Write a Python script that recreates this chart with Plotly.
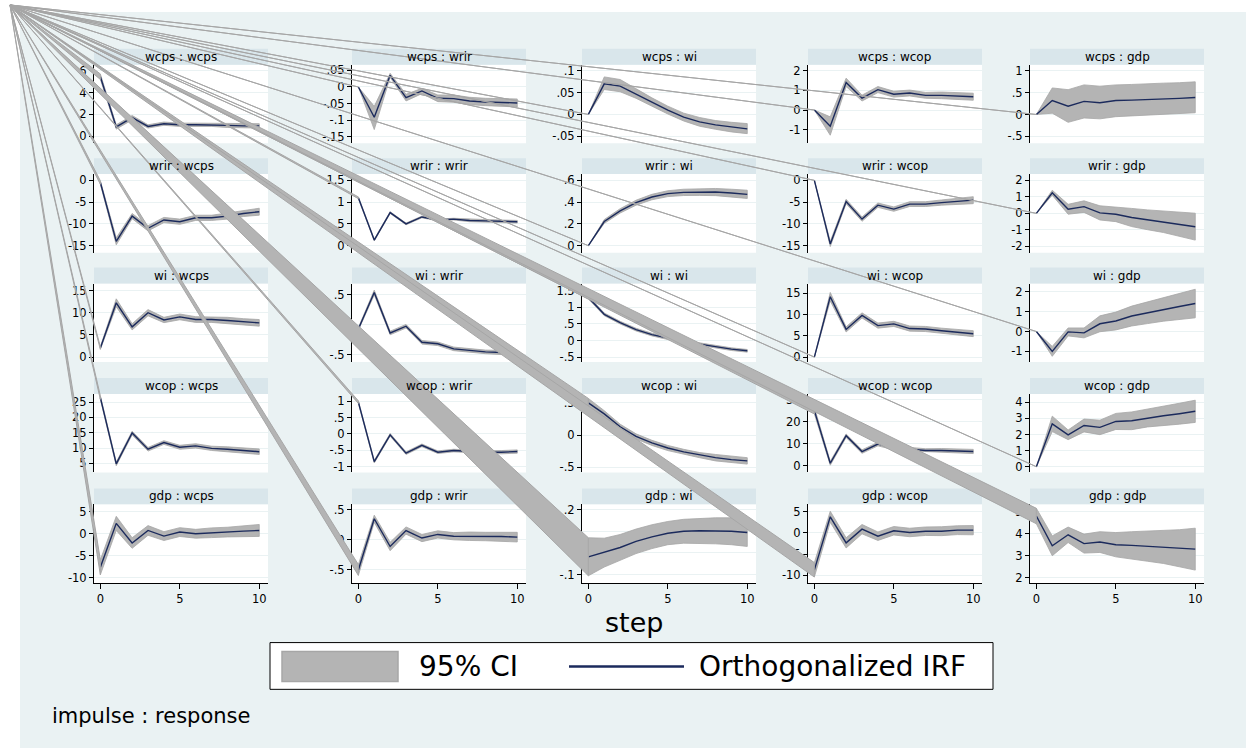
import plotly.graph_objects as go

W, H = 1246, 755
steps = list(range(11))
variables = ["wcps", "wrir", "wi", "wcop", "gdp"]

# ---------------- data (impulse : response) ----------------
wcps_wcps_irf = [5.45, 0.85, 1.70, 0.90, 1.15, 1.05, 1.05, 1.05, 1.00, 0.95, 0.95]
wcps_wcps_lo = [5.20, 0.65, 1.50, 0.75, 1.00, 0.90, 0.90, 0.90, 0.80, 0.75, 0.75]
wcps_wcps_hi = [5.70, 1.05, 1.90, 1.05, 1.30, 1.20, 1.20, 1.20, 1.20, 1.15, 1.15]

wcps_wrir_irf = [0, -0.091, 0.035, -0.032, -0.012, -0.034, -0.035, -0.042, -0.045, -0.047, -0.048]
wcps_wrir_lo = [0, -0.128, 0.029, -0.042, -0.020, -0.044, -0.046, -0.053, -0.056, -0.059, -0.060]
wcps_wrir_hi = [0, -0.058, 0.041, -0.022, -0.004, -0.024, -0.024, -0.031, -0.034, -0.035, -0.036]

wcps_wi_irf = [0, 0.070, 0.065, 0.047, 0.028, 0.010, -0.006, -0.017, -0.024, -0.029, -0.033]
wcps_wi_lo = [0, 0.057, 0.052, 0.037, 0.019, 0.001, -0.015, -0.027, -0.034, -0.040, -0.044]
wcps_wi_hi = [0, 0.086, 0.080, 0.059, 0.038, 0.019, 0.003, -0.007, -0.014, -0.018, -0.021]

wcps_wcop_irf = [0, -0.83, 1.41, 0.61, 1.04, 0.81, 0.87, 0.75, 0.75, 0.72, 0.68]
wcps_wcop_lo = [0, -1.29, 1.20, 0.46, 0.89, 0.66, 0.72, 0.60, 0.58, 0.55, 0.50]
wcps_wcop_hi = [0, -0.35, 1.63, 0.76, 1.20, 0.96, 1.02, 0.90, 0.92, 0.89, 0.86]

wcps_gdp_irf = [0, 0.32, 0.19, 0.30, 0.27, 0.32, 0.33, 0.34, 0.36, 0.37, 0.39]
wcps_gdp_lo = [0, 0.03, -0.18, -0.08, -0.10, -0.05, -0.04, -0.02, 0.00, 0.02, 0.04]
wcps_gdp_hi = [0, 0.61, 0.57, 0.68, 0.65, 0.68, 0.69, 0.71, 0.72, 0.73, 0.75]

wrir_wcps_irf = [-0.5, -14.0, -8.2, -11.0, -9.1, -9.5, -8.6, -8.6, -8.2, -7.6, -7.2]
wrir_wcps_lo = [-0.9, -14.8, -8.8, -11.6, -9.7, -10.1, -9.2, -9.2, -8.9, -8.3, -8.0]
wrir_wcps_hi = [-0.1, -13.2, -7.6, -10.4, -8.5, -8.9, -8.0, -8.0, -7.5, -6.9, -6.4]

wrir_wrir_irf = [1.10, 0.13, 0.76, 0.50, 0.66, 0.59, 0.61, 0.58, 0.57, 0.56, 0.55]
wrir_wrir_lo = [1.08, 0.11, 0.74, 0.48, 0.64, 0.57, 0.59, 0.55, 0.54, 0.53, 0.52]
wrir_wrir_hi = [1.12, 0.15, 0.78, 0.52, 0.68, 0.61, 0.63, 0.61, 0.60, 0.59, 0.58]

wrir_wi_irf = [0, 0.222, 0.320, 0.395, 0.447, 0.478, 0.490, 0.493, 0.493, 0.484, 0.472]
wrir_wi_lo = [0, 0.205, 0.300, 0.372, 0.422, 0.451, 0.461, 0.462, 0.460, 0.449, 0.434]
wrir_wi_hi = [0, 0.240, 0.340, 0.418, 0.472, 0.505, 0.519, 0.524, 0.526, 0.519, 0.510]

wrir_wcop_irf = [0, -14.6, -4.85, -8.9, -5.7, -6.6, -5.45, -5.45, -5.1, -4.8, -4.55]
wrir_wcop_lo = [0, -15.2, -5.35, -9.4, -6.2, -7.1, -6.0, -6.0, -5.7, -5.5, -5.35]
wrir_wcop_hi = [0, -14.0, -4.35, -8.4, -5.2, -6.1, -4.9, -4.9, -4.5, -4.1, -3.75]

wrir_gdp_irf = [0, 1.25, 0.25, 0.41, 0.03, -0.05, -0.25, -0.39, -0.51, -0.65, -0.81]
wrir_gdp_lo = [0, 1.10, -0.05, 0.06, -0.40, -0.50, -0.80, -0.99, -1.16, -1.37, -1.62]
wrir_gdp_hi = [0, 1.40, 0.55, 0.76, 0.46, 0.40, 0.30, 0.21, 0.14, 0.07, 0.01]

wi_wcps_irf = [2.05, 12.3, 6.85, 10.05, 8.4, 9.1, 8.5, 8.5, 8.3, 8.0, 7.75]
wi_wcps_lo = [1.75, 11.4, 6.15, 9.35, 7.8, 8.45, 7.85, 7.85, 7.6, 7.3, 7.0]
wi_wcps_hi = [2.35, 13.2, 7.55, 10.75, 9.0, 9.75, 9.15, 9.15, 9.0, 8.7, 8.5]

wi_wrir_irf = [-0.067, 0.54, -0.135, -0.022, -0.29, -0.315, -0.40, -0.425, -0.45, -0.46, -0.46]
wi_wrir_lo = [-0.09, 0.50, -0.165, -0.052, -0.32, -0.345, -0.43, -0.455, -0.48, -0.495, -0.495]
wi_wrir_hi = [-0.044, 0.58, -0.105, 0.008, -0.26, -0.285, -0.37, -0.395, -0.42, -0.425, -0.425]

wi_wi_irf = [1.30, 0.79, 0.54, 0.33, 0.18, 0.07, -0.03, -0.11, -0.19, -0.26, -0.31]
wi_wi_lo = [1.25, 0.75, 0.50, 0.29, 0.14, 0.03, -0.07, -0.15, -0.23, -0.30, -0.35]
wi_wi_hi = [1.35, 0.83, 0.58, 0.37, 0.22, 0.11, 0.01, -0.07, -0.15, -0.22, -0.27]

wi_wcop_irf = [0, 14.2, 6.5, 9.8, 7.4, 7.8, 6.7, 6.6, 6.2, 5.9, 5.5]
wi_wcop_lo = [0, 13.2, 5.9, 9.2, 6.8, 7.2, 6.1, 6.0, 5.6, 5.25, 4.8]
wi_wcop_hi = [0, 15.2, 7.1, 10.4, 8.0, 8.4, 7.3, 7.2, 6.8, 6.55, 6.2]

wi_gdp_irf = [0, -1.0, -0.02, -0.07, 0.39, 0.53, 0.78, 0.95, 1.12, 1.26, 1.41]
wi_gdp_lo = [0, -1.25, -0.22, -0.32, -0.01, 0.08, 0.28, 0.40, 0.52, 0.61, 0.69]
wi_gdp_hi = [0, -0.75, 0.18, 0.18, 0.79, 0.98, 1.28, 1.50, 1.72, 1.91, 2.13]

wcop_wcps_irf = [26.5, 4.8, 14.9, 9.6, 11.8, 10.25, 10.7, 9.9, 9.6, 9.25, 8.8]
wcop_wcps_lo = [25.9, 4.2, 14.3, 9.0, 11.2, 9.6, 10.0, 9.2, 8.8, 8.4, 7.9]
wcop_wcps_hi = [27.1, 5.4, 15.5, 10.2, 12.4, 10.9, 11.4, 10.6, 10.4, 10.1, 9.7]

wcop_wrir_irf = [0.97, -0.85, -0.03, -0.59, -0.35, -0.56, -0.51, -0.54, -0.56, -0.56, -0.54]
wcop_wrir_lo = [0.93, -0.89, -0.07, -0.63, -0.39, -0.60, -0.55, -0.58, -0.60, -0.61, -0.59]
wcop_wrir_hi = [1.01, -0.81, 0.01, -0.55, -0.31, -0.52, -0.47, -0.50, -0.52, -0.51, -0.49]

wcop_wi_irf = [0.50, 0.33, 0.13, -0.02, -0.12, -0.20, -0.26, -0.31, -0.35, -0.38, -0.40]
wcop_wi_lo = [0.43, 0.28, 0.09, -0.06, -0.16, -0.24, -0.30, -0.35, -0.40, -0.43, -0.45]
wcop_wi_hi = [0.57, 0.38, 0.17, 0.02, -0.08, -0.16, -0.22, -0.27, -0.30, -0.33, -0.35]

wcop_wcop_irf = [25.0, 1.1, 13.6, 6.4, 9.8, 8.0, 7.5, 6.9, 6.9, 6.7, 6.45]
wcop_wcop_lo = [23.5, 0.2, 12.8, 5.6, 9.0, 7.2, 6.7, 6.1, 6.0, 5.8, 5.5]
wcop_wcop_hi = [26.5, 2.0, 14.4, 7.2, 10.6, 8.8, 8.3, 7.7, 7.8, 7.6, 7.4]

wcop_gdp_irf = [0, 2.66, 1.98, 2.56, 2.44, 2.81, 2.85, 3.02, 3.16, 3.29, 3.44]
wcop_gdp_lo = [0, 2.18, 1.68, 2.16, 1.99, 2.31, 2.30, 2.47, 2.56, 2.64, 2.75]
wcop_gdp_hi = [0, 3.14, 2.28, 2.96, 2.89, 3.31, 3.40, 3.57, 3.76, 3.94, 4.13]

gdp_wcps_irf = [-7.6, 2.35, -2.1, 0.75, -0.53, 0.38, 0.0, 0.23, 0.38, 0.6, 0.75]
gdp_wcps_lo = [-9.3, 0.75, -3.3, -0.35, -1.53, -0.62, -1.0, -0.87, -0.72, -0.6, -0.6]
gdp_wcps_hi = [-5.9, 3.95, -0.9, 1.85, 0.47, 1.38, 1.0, 1.33, 1.48, 1.8, 2.1]

gdp_wrir_irf = [-0.50, 0.35, -0.11, 0.155, 0.03, 0.09, 0.06, 0.06, 0.055, 0.055, 0.045]
gdp_wrir_lo = [-0.59, 0.29, -0.18, 0.095, -0.03, 0.03, 0.0, -0.01, -0.015, -0.02, -0.035]
gdp_wrir_hi = [-0.41, 0.41, -0.04, 0.215, 0.09, 0.15, 0.12, 0.13, 0.125, 0.13, 0.125]

gdp_wi_irf = [-0.018, 0.002, 0.025, 0.053, 0.074, 0.091, 0.100, 0.102, 0.102, 0.100, 0.094]
gdp_wi_lo = [-0.105, -0.065, -0.035, -0.003, 0.020, 0.038, 0.045, 0.044, 0.042, 0.038, 0.030]
gdp_wi_hi = [0.070, 0.068, 0.085, 0.110, 0.130, 0.145, 0.155, 0.160, 0.162, 0.162, 0.158]

gdp_wcop_irf = [-8.7, 3.8, -2.35, 0.88, -0.78, 0.5, 0.1, 0.4, 0.4, 0.64, 0.64]
gdp_wcop_lo = [-10.4, 2.5, -3.55, -0.22, -1.78, -0.5, -0.9, -0.6, -0.65, -0.4, -0.45]
gdp_wcop_hi = [-7.0, 5.1, -1.15, 1.98, 0.22, 1.5, 1.1, 1.4, 1.45, 1.68, 1.73]

gdp_gdp_irf = [4.8, 3.45, 3.95, 3.55, 3.62, 3.5, 3.47, 3.43, 3.39, 3.34, 3.3]
gdp_gdp_lo = [4.45, 3.0, 3.6, 3.12, 3.15, 2.95, 2.85, 2.75, 2.65, 2.5, 2.35]
gdp_gdp_hi = [5.15, 3.9, 4.3, 3.98, 4.09, 4.05, 4.09, 4.11, 4.13, 4.18, 4.25]

# ---------------- y tick values / labels per panel ----------------
wcps_wcps_ticks = [0, 2, 4, 6];            wcps_wcps_labels = ["0", "2", "4", "6"]
wcps_wrir_ticks = [-0.15, -0.1, -0.05, 0, 0.05]; wcps_wrir_labels = ["-.15", "-.1", "-.05", "0", ".05"]
wcps_wi_ticks = [-0.05, 0, 0.05, 0.1];     wcps_wi_labels = ["-.05", "0", ".05", ".1"]
wcps_wcop_ticks = [-1, 0, 1, 2];           wcps_wcop_labels = ["-1", "0", "1", "2"]
wcps_gdp_ticks = [-0.5, 0, 0.5, 1];        wcps_gdp_labels = ["-.5", "0", ".5", "1"]
wrir_wcps_ticks = [-15, -10, -5, 0];       wrir_wcps_labels = ["-15", "-10", "-5", "0"]
wrir_wrir_ticks = [0, 0.5, 1, 1.5];        wrir_wrir_labels = ["0", ".5", "1", "1.5"]
wrir_wi_ticks = [0, 0.2, 0.4, 0.6];        wrir_wi_labels = ["0", ".2", ".4", ".6"]
wrir_wcop_ticks = [-15, -10, -5, 0];       wrir_wcop_labels = ["-15", "-10", "-5", "0"]
wrir_gdp_ticks = [-2, -1, 0, 1, 2];        wrir_gdp_labels = ["-2", "-1", "0", "1", "2"]
wi_wcps_ticks = [0, 5, 10, 15];            wi_wcps_labels = ["0", "5", "10", "15"]
wi_wrir_ticks = [-0.5, 0, 0.5];            wi_wrir_labels = ["-.5", "0", ".5"]
wi_wi_ticks = [-0.5, 0, 0.5, 1, 1.5];      wi_wi_labels = ["-.5", "0", ".5", "1", "1.5"]
wi_wcop_ticks = [0, 5, 10, 15];            wi_wcop_labels = ["0", "5", "10", "15"]
wi_gdp_ticks = [-1, 0, 1, 2];              wi_gdp_labels = ["-1", "0", "1", "2"]
wcop_wcps_ticks = [5, 10, 15, 20, 25];     wcop_wcps_labels = ["5", "10", "15", "20", "25"]
wcop_wrir_ticks = [-1, -0.5, 0, 0.5, 1];   wcop_wrir_labels = ["-1", "-.5", "0", ".5", "1"]
wcop_wi_ticks = [-0.5, 0, 0.5];            wcop_wi_labels = ["-.5", "0", ".5"]
wcop_wcop_ticks = [0, 10, 20, 30];         wcop_wcop_labels = ["0", "10", "20", "30"]
wcop_gdp_ticks = [0, 1, 2, 3, 4];          wcop_gdp_labels = ["0", "1", "2", "3", "4"]
gdp_wcps_ticks = [-10, -5, 0, 5];          gdp_wcps_labels = ["-10", "-5", "0", "5"]
gdp_wrir_ticks = [-0.5, 0, 0.5];           gdp_wrir_labels = ["-.5", "0", ".5"]
gdp_wi_ticks = [-0.1, 0, 0.1, 0.2];        gdp_wi_labels = ["-.1", "0", ".1", ".2"]
gdp_wcop_ticks = [-10, -5, 0, 5];          gdp_wcop_labels = ["-10", "-5", "0", "5"]
gdp_gdp_ticks = [2, 3, 4, 5];              gdp_gdp_labels = ["2", "3", "4", "5"]

x_ticks = [0, 5, 10]
x_labels = ["0", "5", "10"]

# ---------------- layout geometry (pixels) ----------------
col_left = [94, 352, 582, 808, 1030]
panel_w = 174
row_top = [63, 173, 283, 394, 505]
panel_h = 79
strip_h = 16
x_range = [-0.4, 10.55]
y_ranges = {
    ("wcps", "wcps"): [-0.64, 6.55], ("wcps", "wrir"): [-0.169, 0.067],
    ("wcps", "wi"): [-0.066, 0.114], ("wcps", "wcop"): [-1.70, 2.32],
    ("wcps", "gdp"): [-0.66, 1.144],
    ("wrir", "wcps"): [-16.6, 1.44], ("wrir", "wrir"): [-0.16, 1.644],
    ("wrir", "wi"): [-0.064, 0.658], ("wrir", "wcop"): [-16.6, 1.44],
    ("wrir", "gdp"): [-2.38, 2.38],
    ("wi", "wcps"): [-1.14, 16.67], ("wi", "wrir"): [-0.62, 0.69],
    ("wi", "wi"): [-0.65, 1.72], ("wi", "wcop"): [-1.18, 17.3],
    ("wi", "gdp"): [-1.54, 2.42],
    ("wcop", "wcps"): [2.0, 27.7], ("wcop", "wrir"): [-1.18, 1.22],
    ("wcop", "wi"): [-0.58, 0.64], ("wcop", "wcop"): [-3.1, 32.6],
    ("wcop", "gdp"): [-0.36, 4.52],
    ("gdp", "wcps"): [-11.14, 6.67], ("gdp", "wrir"): [-0.715, 0.59],
    ("gdp", "wi"): [-0.138, 0.224], ("gdp", "wcop"): [-11.78, 6.73],
    ("gdp", "gdp"): [1.77, 5.33],
}
corner_px = (10, 3)

FONT = "DejaVu Sans, Verdana, sans-serif"
BG = "#eaf2f3"
STRIP = "#d9e6eb"
CI_FILL = "#b4b4b4"
CI_LINE = "#a6a6a6"
IRF_COL = "#1b2a5c"

g = globals()
fig = go.Figure()
shapes = []
annotations = []
layout = {}

# graph region background
shapes.append(dict(type="rect", xref="paper", yref="paper", x0=20 / W, x1=1.0,
                   y0=1 - 750 / H, y1=1 - 10 / H, fillcolor=BG, line=dict(width=0),
                   layer="below"))

wedges = []
for r, imp in enumerate(variables):
    for c, resp in enumerate(variables):
        i = r * 5 + c + 1
        key = f"{imp}_{resp}"
        irf = g[key + "_irf"]
        lo = g[key + "_lo"]
        hi = g[key + "_hi"]
        ticks = g[key + "_ticks"]
        labels = g[key + "_labels"]
        yr = y_ranges[(imp, resp)]

        L, T = col_left[c], row_top[r]
        xdom = [L / W, (L + panel_w) / W]
        ydom = [1 - (T + panel_h) / H, 1 - T / H]
        xa = "xaxis" if i == 1 else f"xaxis{i}"
        ya = "yaxis" if i == 1 else f"yaxis{i}"
        xr = "x" if i == 1 else f"x{i}"
        yrf = "y" if i == 1 else f"y{i}"

        bottom = (r == 4)
        layout[xa] = dict(domain=xdom, anchor=yrf, range=x_range, showgrid=False,
                          zeroline=False, visible=bottom, showline=bottom,
                          linecolor="black", linewidth=1, ticks="outside" if bottom else "",
                          ticklen=5, tickwidth=1, tickcolor="black",
                          tickvals=x_ticks, ticktext=x_labels,
                          tickfont=dict(family=FONT, size=11.5, color="black"))
        layout[ya] = dict(domain=ydom, anchor=xr, range=yr, showgrid=True,
                          gridcolor=BG, gridwidth=1, zeroline=False, showline=True,
                          linecolor="black", linewidth=1, ticks="outside", ticklen=4,
                          tickwidth=1, tickcolor="black", tickvals=ticks, ticktext=labels,
                          tickfont=dict(family=FONT, size=11.5, color="black"))

        # panel background and title strip
        shapes.append(dict(type="rect", xref="paper", yref="paper",
                           x0=xdom[0], x1=xdom[1], y0=ydom[0], y1=ydom[1],
                           fillcolor="white", line=dict(width=0), layer="below"))
        shapes.append(dict(type="rect", xref="paper", yref="paper",
                           x0=xdom[0], x1=xdom[1], y0=ydom[1], y1=ydom[1] + strip_h / H,
                           fillcolor=STRIP, line=dict(width=0), layer="below"))
        annotations.append(dict(text=f"{imp} : {resp}", xref="paper", yref="paper",
                                x=(xdom[0] + xdom[1]) / 2, y=ydom[1] + strip_h / (2 * H),
                                xanchor="center", yanchor="middle", showarrow=False,
                                font=dict(family=FONT, size=12, color="black")))

        # CI band and IRF line
        fig.add_trace(go.Scatter(x=steps + steps[::-1], y=hi + lo[::-1], fill="toself",
                                 fillcolor=CI_FILL, mode="lines",
                                 line=dict(color=CI_LINE, width=0.8),
                                 xaxis=xr, yaxis=yrf, showlegend=False, hoverinfo="skip"))
        fig.add_trace(go.Scatter(x=steps, y=irf, mode="lines",
                                 line=dict(color=IRF_COL, width=1.4),
                                 xaxis=xr, yaxis=yrf, showlegend=False))

        # rendering artefact: CI polygon joined to the graph origin
        def to_paper(xv, yv):
            px = L + (xv - x_range[0]) / (x_range[1] - x_range[0]) * panel_w
            py = T + (yr[1] - yv) / (yr[1] - yr[0]) * panel_h
            return px / W, 1 - py / H
        cx, cy = corner_px[0] / W, 1 - corner_px[1] / H
        ux, uy = to_paper(steps[0], hi[0])
        lx, ly = to_paper(steps[0], lo[0])
        wedges.append(dict(type="path", xref="paper", yref="paper",
                           path=f"M {cx},{cy} L {ux},{uy} L {lx},{ly} Z",
                           fillcolor=CI_FILL, line=dict(color=CI_LINE, width=1),
                           layer="above"))

shapes.extend(wedges)

# x-axis title
annotations.append(dict(text="step", xref="paper", yref="paper", x=634 / W, y=1 - 624 / H,
                        xanchor="center", yanchor="middle", showarrow=False,
                        font=dict(family=FONT, size=27, color="black")))

# legend (drawn)
shapes.append(dict(type="rect", xref="paper", yref="paper", x0=270 / W, x1=993 / W,
                   y0=1 - 691 / H, y1=1 - 644 / H, fillcolor="white",
                   line=dict(color="black", width=1), layer="above"))
shapes.append(dict(type="rect", xref="paper", yref="paper", x0=282 / W, x1=398 / W,
                   y0=1 - 683 / H, y1=1 - 653 / H, fillcolor=CI_FILL,
                   line=dict(color=CI_LINE, width=1.5), layer="above"))
shapes.append(dict(type="line", xref="paper", yref="paper", x0=569 / W, x1=684 / W,
                   y0=1 - 668 / H, y1=1 - 668 / H, line=dict(color=IRF_COL, width=2.5),
                   layer="above"))
annotations.append(dict(text="95% CI", xref="paper", yref="paper", x=417 / W, y=1 - 668 / H,
                        xanchor="left", yanchor="middle", showarrow=False,
                        font=dict(family=FONT, size=28, color="black")))
annotations.append(dict(text="Orthogonalized IRF", xref="paper", yref="paper", x=697 / W,
                        y=1 - 668 / H, xanchor="left", yanchor="middle", showarrow=False,
                        font=dict(family=FONT, size=28, color="black")))
annotations.append(dict(text="impulse : response", xref="paper", yref="paper", x=50 / W,
                        y=1 - 718 / H, xanchor="left", yanchor="middle", showarrow=False,
                        font=dict(family=FONT, size=21, color="black")))

fig.update_layout(width=W, height=H, autosize=False,
                  margin=dict(l=0, r=0, t=0, b=0, pad=0),
                  paper_bgcolor="white", plot_bgcolor="rgba(0,0,0,0)",
                  showlegend=False, shapes=shapes, annotations=annotations,
                  font=dict(family=FONT), **layout)

fig.write_html("out.html", config={"displayModeBar": False},
               post_script="document.body.style.margin='0';document.body.style.overflow='hidden';")
